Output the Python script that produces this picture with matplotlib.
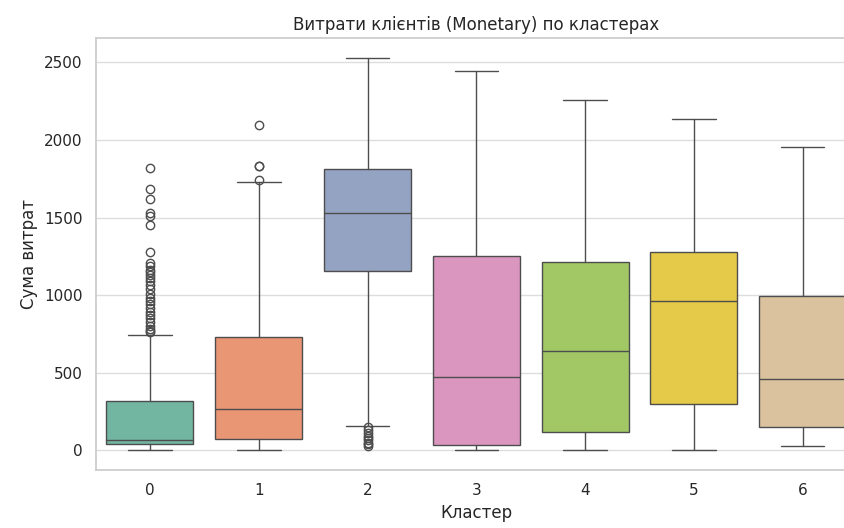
import matplotlib
matplotlib.use("Agg")
import matplotlib.pyplot as plt
import seaborn as sns

# Box statistics per cluster (Monetary)
clusters = ["0", "1", "2", "3", "4", "5", "6"]
whisker_low = [2, 5, 160, 5, 5, 5, 26]
q1 = [40, 77, 1157, 32, 122, 302, 154]
median = [66, 270, 1530, 476, 643, 964, 463]
q3 = [320, 733, 1812, 1253, 1215, 1279, 996]
whisker_high = [745, 1729, 2526, 2442, 2258, 2134, 1954]
outliers = [
    [1819, 1686, 1622, 1530, 1510, 1452, 1279, 1208, 1185, 1165, 1150, 1130,
     1110, 1090, 1065, 1040, 1010, 985, 965, 945, 915, 890, 870, 850, 825,
     800, 785, 770, 760],
    [2095, 1835, 1830, 1740],
    [150, 130, 110, 95, 80, 65, 50, 40, 30],
    [], [], [], [],
]

sns.set_theme(style="whitegrid")
plt.rcParams["font.family"] = ["DejaVu Sans"]

palette = sns.color_palette("Set2", len(clusters), desat=0.75)
line_gray = "#4d4d4d"

fig = plt.figure(figsize=(8.45, 5.28), dpi=100)
ax = fig.add_axes([0.1131, 0.1098, 0.9012, 0.8182])

stats = []
for i, name in enumerate(clusters):
    stats.append(dict(label=name, whislo=whisker_low[i], q1=q1[i], med=median[i],
                      q3=q3[i], whishi=whisker_high[i], fliers=outliers[i]))

positions = list(range(len(clusters)))
art = ax.bxp(stats, positions=positions, widths=0.8, patch_artist=True,
             showfliers=True,
             boxprops=dict(edgecolor=line_gray, linewidth=1.0),
             medianprops=dict(color=line_gray, linewidth=1.0),
             whiskerprops=dict(color=line_gray, linewidth=1.0),
             capprops=dict(color=line_gray, linewidth=1.0),
             flierprops=dict(marker="o", markerfacecolor="none",
                             markeredgecolor=line_gray, markersize=6,
                             markeredgewidth=1.0))
for patch, c in zip(art["boxes"], palette):
    patch.set_facecolor(c)
for cap in art["caps"]:
    x0, x1 = cap.get_xdata()
    mid = (x0 + x1) / 2
    cap.set_xdata([mid - 0.2, mid + 0.2])

ax.set_xlim(-0.5, len(clusters) - 0.5)
ax.set_ylim(-126, 2656)
ax.set_yticks([0, 500, 1000, 1500, 2000, 2500])
ax.set_xticks(positions)
ax.set_xticklabels(clusters)
ax.grid(axis="x", visible=False)
ax.grid(axis="y", color="#dddddd", linewidth=1.0)
ax.set_axisbelow(True)

ax.set_title("Витрати клієнтів (Monetary) по кластерах", fontsize=12)
ax.set_xlabel("Кластер", fontsize=12)
ax.set_ylabel("Сума витрат", fontsize=12)
ax.tick_params(labelsize=11)

fig.savefig("out.png", dpi=100)
